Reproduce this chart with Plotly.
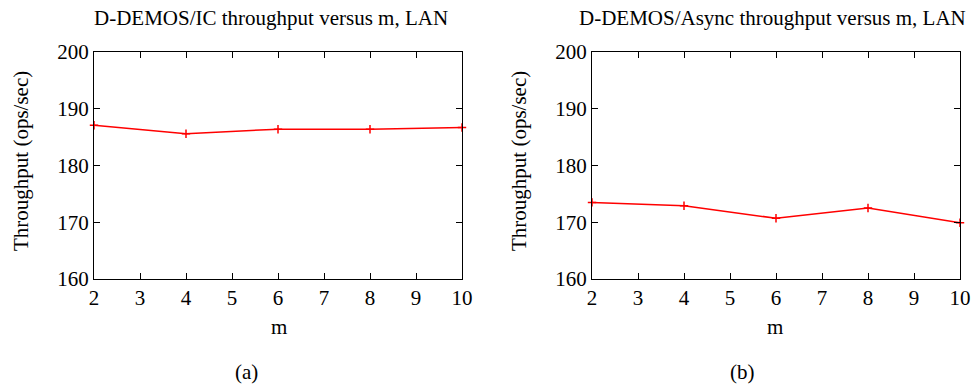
import plotly.graph_objects as go

m_values = [2, 4, 6, 8, 10]
ic_throughput = [187.1, 185.6, 186.4, 186.4, 186.7]
async_throughput = [173.5, 172.9, 170.7, 172.5, 169.9]
x_ticks = [2, 3, 4, 5, 6, 7, 8, 9, 10]
y_ticks = [160, 170, 180, 190, 200]

W, H = 973, 385
FONT = "Liberation Serif"

def px(x):
    return x / W

def py(y):
    return 1 - y / H

fig = go.Figure()
fig.add_trace(go.Scatter(x=m_values, y=ic_throughput, mode="lines+markers",
                         line=dict(color="red", width=1.5),
                         marker=dict(symbol="cross-thin", size=6, line=dict(color="red", width=1.5)),
                         xaxis="x", yaxis="y", showlegend=False, cliponaxis=False))
fig.add_trace(go.Scatter(x=m_values, y=async_throughput, mode="lines+markers",
                         line=dict(color="red", width=1.5),
                         marker=dict(symbol="cross-thin", size=6, line=dict(color="red", width=1.5)),
                         xaxis="x2", yaxis="y2", showlegend=False, cliponaxis=False))

def ax(domain, anchor, rng, ticks):
    return dict(domain=domain, anchor=anchor, range=rng, tickvals=ticks,
                showline=True, linecolor="black", linewidth=1.2, mirror="ticks",
                ticks="inside", ticklen=6, tickcolor="black", showgrid=False, zeroline=False,
                automargin=False,
                tickfont=dict(family=FONT, size=21, color="black"))

ydom = [py(279), py(52)]
fig.update_layout(
    width=W, height=H, margin=dict(l=0, r=0, t=0, b=0, pad=0, autoexpand=False),
    plot_bgcolor="white", paper_bgcolor="white",
    font=dict(family=FONT, color="black"),
    xaxis=ax([px(94), px(462)], "y", [2, 10], x_ticks),
    yaxis=ax(ydom, "x", [160, 200], y_ticks),
    xaxis2=ax([px(592), px(960)], "y2", [2, 10], x_ticks),
    yaxis2=ax(ydom, "x2", [160, 200], y_ticks),
)

def ann(text, x, y, size=21, angle=0):
    fig.add_annotation(text=text, x=px(x), y=py(y), xref="paper", yref="paper",
                       showarrow=False, textangle=angle,
                       font=dict(family=FONT, size=size, color="black"),
                       xanchor="center", yanchor="middle")

ann("D-DEMOS/IC throughput versus m, LAN", 271, 18, 21)
ann("D-DEMOS/Async throughput versus m, LAN", 772, 18, 21)
ann("Throughput (ops/sec)", 21, 161, 21, -90)
ann("Throughput (ops/sec)", 519, 161, 21, -90)
ann("m", 279, 327, 21)
ann("m", 775, 327, 21)
ann("(a)", 246, 372, 21)
ann("(b)", 742, 372, 21)

fig.write_html(
    "out.html",
    config={"displayModeBar": False},
    post_script="document.body.style.margin='0';document.body.style.padding='0';"
                "document.body.style.overflow='hidden';"
                "document.documentElement.style.overflow='hidden';",
)
